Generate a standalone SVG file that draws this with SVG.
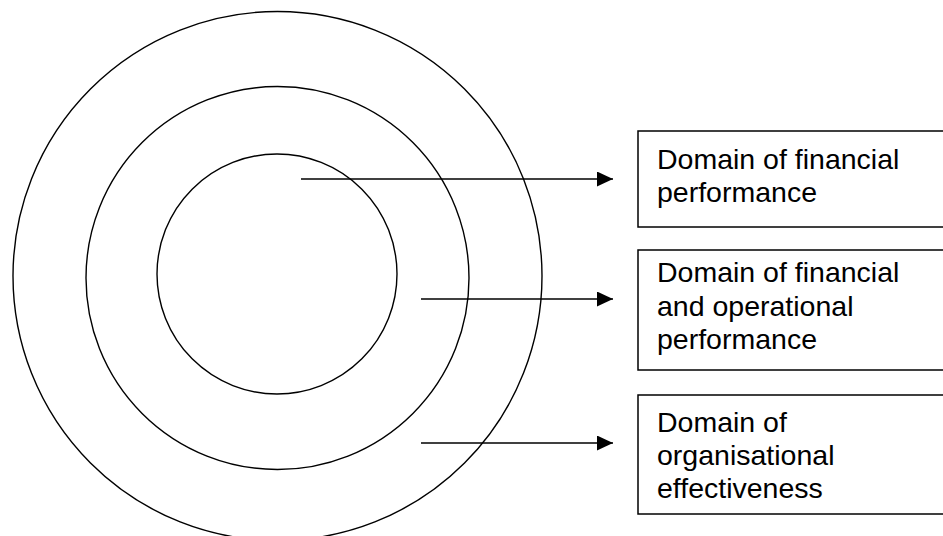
<svg xmlns="http://www.w3.org/2000/svg" width="943" height="536" viewBox="0 0 943 536">
<defs>
<style>
.ring{fill:none;stroke:#000;stroke-width:1.4}
.box{fill:#fff;stroke:#000;stroke-width:1.5}
.lbl{font-family:"Liberation Sans",Arial,sans-serif;font-size:28.5px;fill:#000}
.arr{stroke:#000;stroke-width:1.6;fill:none;marker-end:url(#ah)}
</style>
<marker id="ah" markerWidth="16" markerHeight="15" refX="16" refY="7.5" orient="auto" markerUnits="userSpaceOnUse">
<path d="M0,0 L16,7.5 L0,15 Z" fill="#000"/>
</marker>
</defs>
<rect width="943" height="536" fill="#fff"/>
<g id="outer-ring"><circle class="ring" cx="277.5" cy="276" r="264.5"/></g>
<g id="middle-ring"><circle class="ring" cx="277.5" cy="278" r="191.5"/></g>
<g id="inner-ring"><circle class="ring" cx="277" cy="274" r="120"/></g>
<g id="connectors">
<line class="arr" x1="301" y1="179" x2="613" y2="179"/>
<line class="arr" x1="421" y1="299" x2="613" y2="299"/>
<line class="arr" x1="421" y1="443" x2="613" y2="443"/>
</g>
<g id="box-financial">
<rect class="box" x="638" y="131" width="310" height="96"/>
<text class="lbl" x="657" y="169">Domain of financial</text>
<text class="lbl" x="657" y="202">performance</text>
</g>
<g id="box-operational">
<rect class="box" x="638" y="250" width="310" height="120"/>
<text class="lbl" x="657" y="282">Domain of financial</text>
<text class="lbl" x="657" y="315.5">and operational</text>
<text class="lbl" x="657" y="349">performance</text>
</g>
<g id="box-organisational">
<rect class="box" x="638" y="395" width="310" height="119"/>
<text class="lbl" x="657" y="432">Domain of</text>
<text class="lbl" x="657" y="465">organisational</text>
<text class="lbl" x="657" y="498">effectiveness</text>
</g>
</svg>
